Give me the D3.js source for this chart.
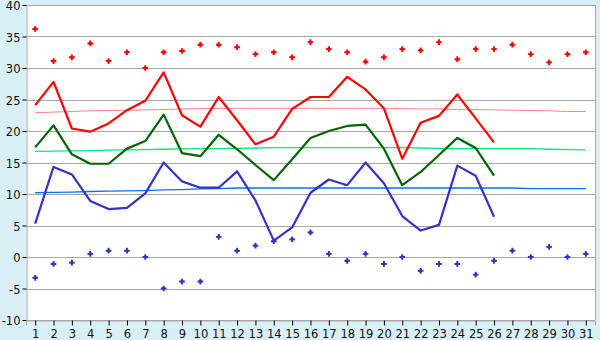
<!DOCTYPE html>
<html>
<head>
<meta charset="utf-8">
<script src="https://cdn.jsdelivr.net/npm/d3@7"></script>
<style>
html,body{margin:0;padding:0;background:#d9eff6;}
svg{display:block;}
</style>
</head>
<body>
<svg id="chart" width="600" height="340"></svg>
<script>
const days = d3.range(1, 32);
const yTicks = [-10, -5, 0, 5, 10, 15, 20, 25, 30, 35, 40];

const recordMax = [36.2,31.1,31.7,33.9,31.1,32.5,30.0,32.5,32.7,33.7,33.7,33.3,32.2,32.5,31.7,34.1,33.0,32.5,31.0,31.7,33.0,32.8,34.1,31.4,33.0,33.0,33.7,32.2,30.9,32.2,32.5];
const meanMax = [24.1,27.8,20.4,19.9,21.2,23.3,24.8,29.3,22.5,20.7,25.4,21.7,17.9,19.1,23.5,25.4,25.4,28.6,26.6,23.6,15.6,21.3,22.4,25.8,22.0,18.2];
const normalMax = [22.9,23.0,23.1,23.2,23.25,23.3,23.35,23.4,23.5,23.55,23.6,23.6,23.6,23.6,23.6,23.6,23.6,23.6,23.6,23.6,23.55,23.5,23.5,23.4,23.4,23.35,23.3,23.25,23.2,23.1,23.1];
const meanAvg = [17.4,20.9,16.3,14.8,14.8,17.2,18.4,22.6,16.5,16.0,19.4,17.1,14.6,12.2,15.5,18.9,20.0,20.8,21.0,17.2,11.4,13.5,16.2,18.9,17.3,12.9];
const normalAvg = [16.75,16.8,16.85,16.9,16.95,17.0,17.05,17.1,17.15,17.2,17.2,17.25,17.3,17.35,17.35,17.35,17.35,17.35,17.35,17.35,17.35,17.3,17.25,17.2,17.2,17.2,17.2,17.2,17.1,17.05,17.0];
const meanMin = [5.3,14.3,13.1,8.9,7.6,7.8,10.1,15.0,12.0,11.0,11.0,13.6,9.0,2.6,4.7,10.2,12.3,11.4,15.0,11.7,6.5,4.2,5.1,14.5,12.9,6.4];
const normalMin = [10.2,10.25,10.3,10.4,10.45,10.5,10.55,10.65,10.7,10.8,10.85,10.95,10.95,10.95,10.95,10.95,10.95,10.95,10.95,10.95,10.95,10.95,10.95,10.95,10.95,10.95,10.95,10.85,10.85,10.85,10.85];
const recordMin = [-3.3,-1.1,-0.9,0.5,1.0,1.0,0.0,-5.0,-3.9,-3.9,3.2,1.0,1.8,2.5,2.8,3.9,0.5,-0.6,0.5,-1.1,0.0,-2.2,-1.1,-1.1,-2.8,-0.6,1.0,0.0,1.6,0.0,0.5];

const svg = d3.select("#chart");
const L = 26, R = 595, T = 5, B = 320;

const x = d3.scalePoint().domain(days).range([L, R]).padding(0.5);
const y = d3.scaleLinear().domain([-10, 40]).range([B, T]);

// plot background
svg.append("rect").attr("x", L).attr("y", T).attr("width", R - L).attr("height", B - T).attr("fill", "#ffffff");

// gridlines
svg.append("g").selectAll("line").data(yTicks).join("line")
  .attr("x1", L).attr("x2", R)
  .attr("y1", d => Math.round(y(d)) + 0.5).attr("y2", d => Math.round(y(d)) + 0.5)
  .attr("stroke", "#a8a8a8").attr("stroke-width", 1);

// right border
svg.append("line").attr("x1", R + 0.5).attr("x2", R + 0.5).attr("y1", T).attr("y2", B)
  .attr("stroke", "#a8a8a8");

// axes
const yAxis = d3.axisLeft(y).tickValues(yTicks).tickSize(4).tickPadding(2).tickFormat(d => String(d));
const gy = svg.append("g").attr("transform", `translate(${L + 0.5},0)`).call(yAxis);
gy.select(".domain").attr("stroke", "#a8a8a8");
gy.selectAll(".tick line").attr("stroke", "#000");
gy.selectAll(".tick text").attr("font-family", "DejaVu Sans, Verdana, sans-serif").attr("font-size", 11.5)
  .attr("fill", "#111").attr("dy", "0.42em");

const xAxis = d3.axisBottom(x).tickSize(5).tickPadding(4);
const gx = svg.append("g").attr("transform", `translate(0,${B + 0.5})`).call(xAxis);
gx.select(".domain").attr("stroke", "#a8a8a8");
gx.selectAll(".tick line").attr("stroke", "#000");
gx.selectAll(".tick text").attr("font-family", "DejaVu Sans, Verdana, sans-serif").attr("font-size", 11.5).attr("fill", "#111");

// lines
const line = d3.line().x((d, i) => x(days[i])).y(d => y(d));
function drawLine(data, color, width) {
  svg.append("path").datum(data).attr("d", line)
    .attr("fill", "none").attr("stroke", color).attr("stroke-width", width)
    .attr("stroke-linejoin", "round");
}
drawLine(normalMax, "#ff8080", 1);
drawLine(normalAvg, "#00ee77", 1.3);
drawLine(normalMin, "#0077ee", 1.3);

drawLine(meanMax, "#ff0000", 2.2);
drawLine(meanAvg, "#006600", 2.2);
drawLine(meanMin, "#3333cc", 2.2);

// record points (cross + diamond marker)
const cross = d3.symbol().type(d3.symbolCross).size(18);
const diamond = d3.symbol().type(d3.symbolSquare).size(10);
function drawPoints(data, color) {
  const g = svg.append("g").selectAll("g").data(data).join("g")
    .attr("transform", (d, i) => `translate(${x(days[i])},${y(d)})`);
  g.append("path").attr("d", cross).attr("fill", color);
  g.append("path").attr("d", diamond).attr("transform", "rotate(45)").attr("fill", color);
}
drawPoints(recordMax, "#ff0000");
drawPoints(recordMin, "#3333cc");
</script>
</body>
</html>
